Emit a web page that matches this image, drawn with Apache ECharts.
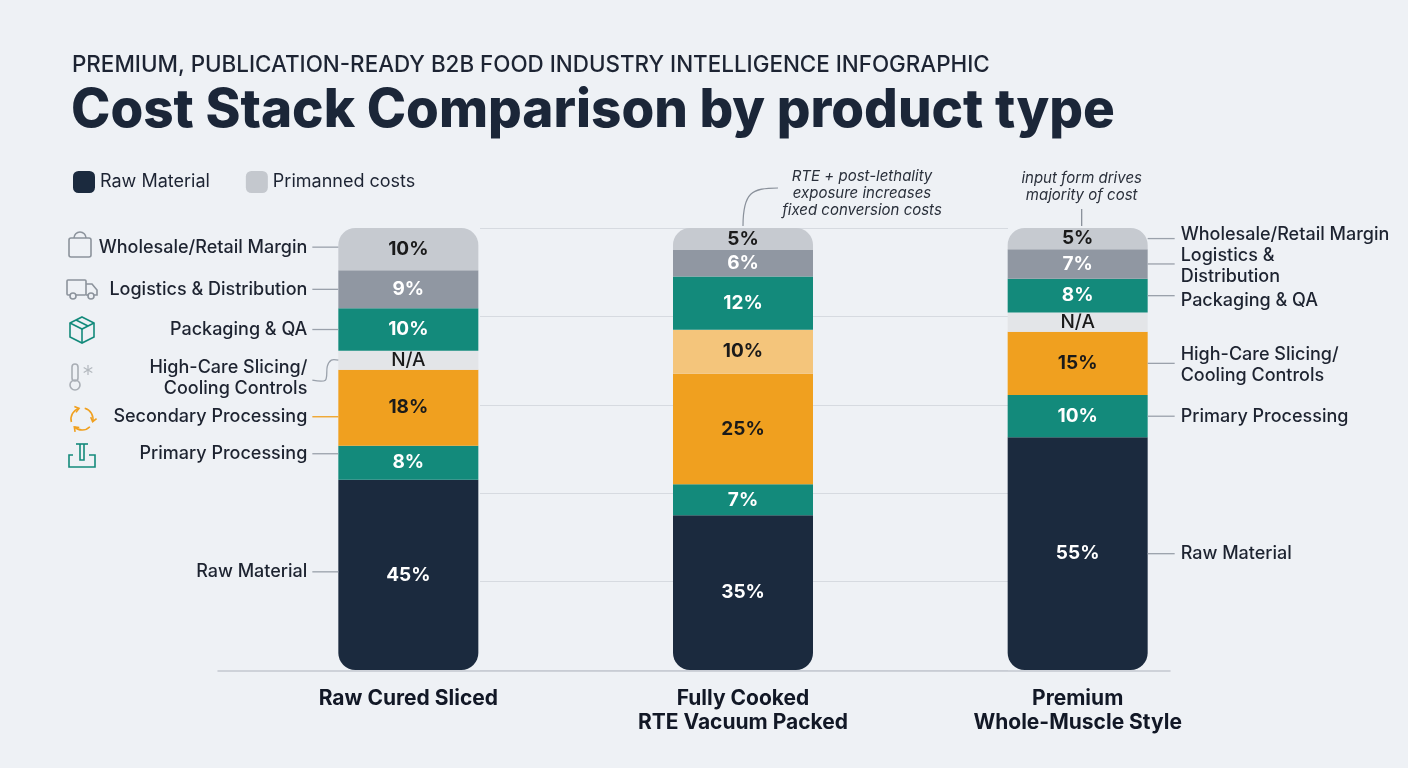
<!DOCTYPE html>
<html lang="en">
<head>
    <meta charset="UTF-8">
    <title>Cost Stack Comparison</title>
    <script src="https://cdn.jsdelivr.net/npm/echarts@6/dist/echarts.min.js"></script>
    <style>
        html, body { margin: 0; padding: 0; background: #eef1f5; }
        #main { width: 1408px; height: 768px; }
    </style>
</head>
<body>
    <div id="main"></div>

    <script type="text/javascript">
        // categories (product types)
        var categories = ['Raw Cured Sliced', 'Fully Cooked\nRTE Vacuum Packed', 'Premium\nWhole-Muscle Style'];

        // cost shares in %, bottom to top of the stack
        var rawMaterial = [45, 35, 55];
        var primaryProcessing = [8, 7, 10];
        var secondaryProcessing = [18, 25, null];
        var highCare = [null, 10, 15];
        var notApplicable = [4.5, null, 4.5];   // height of the grey N/A strip
        var packagingQA = [10, 12, 8];
        var logistics = [9, 6, 7];
        var margin = [10, 5, 5];

        var FONT = 'Inter, "Noto Sans", sans-serif';
        var NAVY = '#1b2a3e', TEAL = '#138a7b', ORANGE = '#f0a01f', LORANGE = '#f4c57b';

        var stackDefs = [
            { name: 'Raw Material', data: rawMaterial, color: [NAVY, NAVY, NAVY], txt: '#ffffff', radius: [0, 0, 17, 17] },
            { name: 'Primary Processing', data: primaryProcessing, color: [TEAL, TEAL, TEAL], txt: '#ffffff' },
            { name: 'Secondary Processing', data: secondaryProcessing, color: [ORANGE, ORANGE, ORANGE], txt: '#1a1a1a' },
            { name: 'High-Care Slicing/Cooling Controls', data: highCare, color: [LORANGE, LORANGE, ORANGE], txt: '#1a1a1a' },
            { name: 'N/A', data: notApplicable, color: ['#e3e5e8', '#e3e5e8', '#e3e5e8'], txt: '#1a1a1a', na: true },
            { name: 'Packaging & QA', data: packagingQA, color: [TEAL, TEAL, TEAL], txt: '#ffffff' },
            { name: 'Logistics & Distribution', data: logistics, color: ['#9097a2', '#9097a2', '#9097a2'], txt: '#ffffff' },
            { name: 'Wholesale/Retail Margin', data: margin, color: ['#c6cad0', '#c6cad0', '#c6cad0'], txt: '#1a1a1a', radius: [17, 17, 0, 0] }
        ];

        // every bar is drawn to the same full height
        var totals = categories.map(function (c, i) {
            var s = 0;
            stackDefs.forEach(function (d) { s += d.data[i] || 0; });
            return s;
        });

        var series = stackDefs.map(function (d) {
            return {
                name: d.name,
                type: 'bar',
                stack: 'cost',
                barWidth: 140,
                xAxisIndex: 0,
                yAxisIndex: 0,
                z: 3,
                itemStyle: { color: d.color[0] },
                emphasis: { disabled: true },
                data: categories.map(function (c, i) {
                    var v = d.data[i];
                    if (v == null) return '-';
                    return {
                        value: v * 100 / totals[i],
                        itemStyle: { color: d.color[i], borderRadius: d.radius || 0 }
                    };
                }),
                label: {
                    show: true,
                    position: 'inside',
                    color: d.txt,
                    fontFamily: FONT,
                    fontSize: 19,
                    fontWeight: d.na ? 500 : 700,
                    formatter: function (p) {
                        return d.na ? 'N/A' : d.data[p.dataIndex] + '%';
                    }
                }
            };
        });

        // dummy series so the legend can show the second swatch
        series.push({
            name: 'Primanned costs',
            type: 'line',
            xAxisIndex: 1,
            yAxisIndex: 1,
            data: [],
            itemStyle: { color: '#c4c8ce' }
        });

        var myChart = echarts.init(document.getElementById('main'));

        var option = {
            backgroundColor: '#eef1f5',
            animation: false,
            title: [{
                text: 'PREMIUM, PUBLICATION-READY B2B FOOD INDUSTRY INTELLIGENCE INFOGRAPHIC',
                left: 67,
                top: 49,
                textStyle: { fontFamily: FONT, fontSize: 22.4, fontWeight: 500, color: '#1d2433' }
            }, {
                text: 'Cost Stack Comparison by product type',
                left: 66,
                top: 80,
                textStyle: { fontFamily: FONT, fontSize: 53, fontWeight: 800, color: '#1b2638' }
            }],
            legend: {
                left: 68,
                top: 166,
                icon: 'roundRect',
                itemWidth: 22,
                itemHeight: 22,
                itemGap: 36,
                selectedMode: false,
                data: ['Raw Material', 'Primanned costs'],
                textStyle: { fontFamily: FONT, fontSize: 18, color: '#1d2433' }
            },
            grid: [
                { left: 241, right: 163, top: 228, bottom: 98 },
                { left: 480, right: 400, top: 228, bottom: 98 },
                { left: 218, right: 238, top: 228, bottom: 97 }
            ],
            xAxis: [{
                type: 'category',
                gridIndex: 0,
                data: categories,
                axisLine: { show: false },
                axisTick: { show: false },
                axisLabel: {
                    margin: 17,
                    fontFamily: FONT,
                    fontSize: 21,
                    fontWeight: 700,
                    lineHeight: 24,
                    color: '#121826'
                }
            }, {
                type: 'value',
                gridIndex: 1,
                min: 0,
                max: 1,
                show: false
            }, {
                type: 'value',
                gridIndex: 2,
                min: 0,
                max: 1,
                axisLine: { show: true, lineStyle: { color: '#c3c8cf', width: 1.5 } },
                axisTick: { show: false },
                axisLabel: { show: false },
                splitLine: { show: false }
            }],
            yAxis: [{
                type: 'value',
                gridIndex: 0,
                min: 0,
                max: 100,
                show: false
            }, {
                type: 'value',
                gridIndex: 1,
                min: 0,
                max: 100,
                interval: 20,
                axisLine: { show: false },
                axisTick: { show: false },
                axisLabel: { show: false },
                splitLine: { lineStyle: { color: '#d6dae0', width: 1 } }
            }, {
                type: 'value',
                gridIndex: 2,
                min: 0,
                max: 1,
                show: false
            }],
            series: series
        };

        myChart.setOption(option);

        // ---- side labels, leader lines, annotations ----
        function segCenter(key, cat) {
            var idx = -1, below = 0;
            stackDefs.forEach(function (d, k) { if (d.name === key) idx = k; });
            for (var k = 0; k < idx; k++) below += (stackDefs[k].data[cat] || 0);
            var mid = below + stackDefs[idx].data[cat] / 2;
            return myChart.convertToPixel({ xAxisIndex: 0, yAxisIndex: 0 }, [cat, mid * 100 / totals[cat]]);
        }

        var LEADER = '#9aa1ab';
        var TXT = '#1d2330';
        var g = [];

        function text(str, x, y, align, opts) {
            opts = opts || {};
            g.push({
                type: 'text',
                z: 10,
                style: {
                    text: str,
                    x: x,
                    y: y,
                    fill: opts.fill || TXT,
                    fontFamily: FONT,
                    fontSize: opts.size || 18,
                    fontWeight: opts.weight || 500,
                    fontStyle: opts.italic ? 'italic' : 'normal',
                    lineHeight: opts.lh || 21,
                    align: align,
                    verticalAlign: 'middle'
                }
            });
        }
        function line(x1, y1, x2, y2, color) {
            g.push({
                type: 'line', z: 9,
                shape: { x1: x1, y1: y1, x2: x2, y2: y2 },
                style: { stroke: color || LEADER, lineWidth: 1.3 }
            });
        }

        var bar1 = myChart.convertToPixel({ xAxisIndex: 0, yAxisIndex: 0 }, [0, 0]);
        var bar3 = myChart.convertToPixel({ xAxisIndex: 0, yAxisIndex: 0 }, [2, 0]);
        var b1Left = bar1[0] - 70, b3Right = bar3[0] + 70;

        // left side, first bar
        var leftLabels = [
            { key: 'Wholesale/Retail Margin', text: 'Wholesale/Retail Margin', dy: -2 },
            { key: 'Logistics & Distribution', text: 'Logistics & Distribution', dy: 0 },
            { key: 'Packaging & QA', text: 'Packaging & QA', dy: 0 },
            { key: 'Secondary Processing', text: 'Secondary Processing', dy: 9, color: ORANGE },
            { key: 'Primary Processing', text: 'Primary Processing', dy: -9 },
            { key: 'Raw Material', text: 'Raw Material', dy: -3 }
        ];
        leftLabels.forEach(function (l) {
            var p = segCenter(l.key, 0);
            var y = p[1] + l.dy;
            text(l.text, b1Left - 31, y, 'right');
            line(b1Left - 26, y, b1Left, y, l.color);
        });
        // High-care label in bar 1 points to the N/A strip
        var na0 = segCenter('N/A', 0);
        text('High-Care Slicing/\nCooling Controls', b1Left - 31, na0[1] + 18, 'right', { lh: 21 });
        g.push({
            type: 'polyline', z: 9,
            shape: { points: [[b1Left - 26, na0[1] + 20], [b1Left - 13, na0[1] + 20], [b1Left - 11, na0[1] + 6], [b1Left - 7, na0[1]], [b1Left, na0[1]]], smooth: 0.3 },
            style: { stroke: LEADER, lineWidth: 1.3, fill: null }
        });

        // right side, third bar
        var rightLabels = [
            { key: 'Wholesale/Retail Margin', text: 'Wholesale/Retail Margin', dy: -4 },
            { key: 'Logistics & Distribution', text: 'Logistics &\nDistribution', dy: 2 },
            { key: 'Packaging & QA', text: 'Packaging & QA', dy: 5 },
            { key: 'High-Care Slicing/Cooling Controls', text: 'High-Care Slicing/\nCooling Controls', dy: 2 },
            { key: 'Primary Processing', text: 'Primary Processing', dy: 0 },
            { key: 'Raw Material', text: 'Raw Material', dy: 0 }
        ];
        rightLabels.forEach(function (l) {
            var p = segCenter(l.key, 2);
            var y = p[1] + l.dy;
            text(l.text, b3Right + 33, y, 'left');
            line(b3Right, p[1], b3Right + 27, p[1]);
        });

        // annotations above bars 2 and 3
        var top2 = myChart.convertToPixel({ xAxisIndex: 0, yAxisIndex: 0 }, [1, 100]);
        text('RTE + post-lethality\nexposure increases\nfixed conversion costs', 862, 193, 'center', { size: 15, weight: 400, italic: true, lh: 17, fill: '#2a303b' });
        g.push({
            type: 'bezierCurve', z: 9,
            shape: { x1: top2[0], y1: top2[1] - 2, cpx1: top2[0], cpy1: 192, cpx2: 752, cpy2: 188, x2: 778, y2: 188 },
            style: { stroke: '#8a919b', lineWidth: 1.2, fill: null }
        });
        var top3 = myChart.convertToPixel({ xAxisIndex: 0, yAxisIndex: 0 }, [2, 100]);
        text('input form drives\nmajority of cost', top3[0] + 4, 187, 'center', { size: 15, weight: 400, italic: true, lh: 17, fill: '#2a303b' });
        line(top3[0] + 4, 209, top3[0] + 4, top3[1] - 2, '#8a919b');

        // small icons on the left
        var GRAY = '#8c939c';
        function st(c) { return { stroke: c, lineWidth: 1.6, fill: null }; }
        // bag
        g.push({ type: 'rect', shape: { x: 69, y: 238, width: 22, height: 19, r: 2 }, style: st(GRAY) });
        g.push({ type: 'arc', shape: { cx: 80, cy: 238, r: 6, startAngle: Math.PI, endAngle: Math.PI * 2 }, style: st(GRAY) });
        // truck
        g.push({ type: 'rect', shape: { x: 67, y: 280, width: 19, height: 15, r: 1 }, style: st(GRAY) });
        g.push({ type: 'polyline', shape: { points: [[86, 284], [92, 284], [97, 290], [97, 295], [86, 295]] }, style: st(GRAY) });
        g.push({ type: 'circle', shape: { cx: 73, cy: 296, r: 3 }, style: { stroke: GRAY, lineWidth: 1.6, fill: '#eef1f5' } });
        g.push({ type: 'circle', shape: { cx: 91, cy: 296, r: 3 }, style: { stroke: GRAY, lineWidth: 1.6, fill: '#eef1f5' } });
        // box
        g.push({ type: 'polygon', shape: { points: [[82, 317], [94, 323], [94, 337], [82, 343], [70, 337], [70, 323]] }, style: st(TEAL) });
        g.push({ type: 'polyline', shape: { points: [[70, 323], [82, 329], [94, 323]] }, style: st(TEAL) });
        g.push({ type: 'line', shape: { x1: 82, y1: 329, x2: 82, y2: 343 }, style: st(TEAL) });
        g.push({ type: 'line', shape: { x1: 76, y1: 320, x2: 88, y2: 326 }, style: st(TEAL) });
        // thermometer + snowflake
        g.push({ type: 'rect', shape: { x: 72, y: 364, width: 6, height: 17, r: 3 }, style: st('#a9aeb5') });
        g.push({ type: 'circle', shape: { cx: 75, cy: 385, r: 5 }, style: st('#a9aeb5') });
        [[0, 5], [4.3, 2.5], [4.3, -2.5]].forEach(function (d) {
            g.push({ type: 'line', shape: { x1: 88 - d[0], y1: 370 - d[1], x2: 88 + d[0], y2: 370 + d[1] }, style: { stroke: '#b3b8be', lineWidth: 1.2 } });
        });
        // recycle arrows
        [0, 2, 4].forEach(function (k) {
            var a = k * Math.PI / 3 - Math.PI / 2 + 0.25;
            var e = a + Math.PI / 2;
            g.push({ type: 'arc', shape: { cx: 82, cy: 419, r: 11, startAngle: a, endAngle: e }, style: st(ORANGE) });
            var ex = 82 + 11 * Math.cos(e), ey = 419 + 11 * Math.sin(e);
            var tx = -Math.sin(e), ty = Math.cos(e);
            g.push({
                type: 'polyline',
                shape: { points: [[ex - 4 * tx + 3 * Math.cos(e), ey - 4 * ty + 3 * Math.sin(e)], [ex, ey], [ex - 4 * tx - 3 * Math.cos(e), ey - 4 * ty - 3 * Math.sin(e)]] },
                style: st(ORANGE)
            });
        });
        // primary processing tray
        g.push({ type: 'polyline', shape: { points: [[73, 455], [69, 455], [69, 467], [95, 467], [95, 455], [89, 455]] }, style: st(TEAL) });
        g.push({ type: 'line', shape: { x1: 76, y1: 444, x2: 88, y2: 444 }, style: st(TEAL) });
        g.push({ type: 'polyline', shape: { points: [[80, 444], [80, 460], [84, 460], [84, 444]] }, style: st(TEAL) });

        myChart.setOption({ graphic: { elements: g } });
    </script>
</body>
</html>
